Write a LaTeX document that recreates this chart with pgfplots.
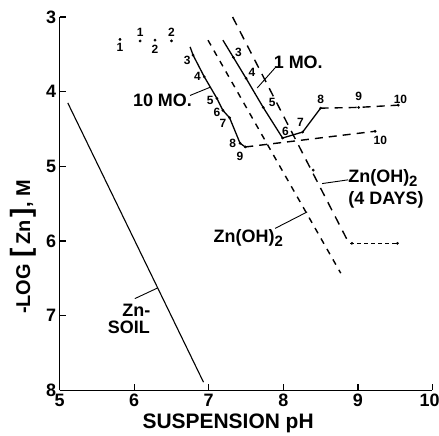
\documentclass[border=0pt]{standalone}
\usepackage{fontspec}
\setmainfont{Liberation Sans}
\usepackage{pgfplots}
\pgfplotsset{compat=1.18}
\newcommand{\fs}[1]{\fontsize{#1}{#1}\selectfont}
\begin{document}
\begin{tikzpicture}
\begin{axis}[name=ax, scale only axis, width=372.5bp, height=373bp,
 xmin=5, xmax=10, ymin=3, ymax=8, y dir=reverse,
 axis lines=left, axis line style={line width=1.6bp,-},
 xtick={5,6,7,8,9,10}, ytick={3,4,5,6,7,8},
 xticklabels={5,6,7,8,9,\makebox[14bp][r]{10}},
 tick align=inside, major tick length=6bp, tick style={line width=1.2bp, black},
 ticklabel style={font=\fs{18}\bfseries},
 /pgf/number format/assume math mode=true,
 clip=false,
 ]
% Zn-soil
\addplot[black, line width=1.1bp] coordinates {(5.11,4.15) (6.93,7.89)};
% scattered early points
\addplot[only marks, mark=*, mark size=1.2bp, black] coordinates {(5.81,3.30) (6.08,3.32) (6.28,3.31) (6.50,3.32)};
% 10 MO
\addplot[black, line width=1.3bp] coordinates {(6.75,3.40) (6.79,3.51) (6.94,3.80) (7.11,4.09) (7.19,4.25) (7.28,4.35) (7.42,4.69) (7.49,4.74)};
\addplot[only marks, mark=*, mark size=1.2bp, black] coordinates {(6.79,3.51) (6.94,3.80) (7.11,4.09) (7.19,4.25) (7.28,4.35) (7.42,4.69) (7.49,4.74) (9.23,4.53)};
\addplot[black, line width=1.4bp, dash pattern=on 8bp off 6bp] coordinates {(7.49,4.74) (9.23,4.53)};
% 1 MO
\addplot[black, line width=1.3bp] coordinates {(7.19,3.31) (7.33,3.54) (7.50,3.82) (7.73,4.21) (7.99,4.62) (8.26,4.54) (8.50,4.22)};
\addplot[black, line width=1.4bp, dash pattern=on 8bp off 6bp] coordinates {(8.50,4.22) (9.01,4.21) (9.54,4.18)};
\addplot[only marks, mark=*, mark size=1.2bp, black] coordinates {(7.33,3.54) (7.50,3.82) (7.73,4.21) (7.99,4.62) (8.26,4.54) (8.50,4.22) (9.01,4.21) (9.54,4.18)};
% Zn(OH)2
\addplot[black, line width=1.4bp, dash pattern=on 6bp off 6bp] coordinates {(6.99,3.31) (8.77,6.43)};
% Zn(OH)2 4 days
\addplot[black, line width=1.4bp, dash pattern=on 9bp off 7bp] coordinates {(7.32,3.00) (8.88,6.03)};
\addplot[black, line width=1.4bp, dash pattern=on 4bp off 3bp] coordinates {(8.90,6.03) (9.53,6.03)};
\addplot[only marks, mark=*, mark size=1.2bp, black] coordinates {(8.40,5.05) (8.92,6.03) (9.53,6.03)};
% leaders
\addplot[black, line width=0.9bp] coordinates {(6.75,4.05) (7.02,3.94)};
\addplot[black, line width=0.9bp] coordinates {(7.65,3.95) (7.89,3.68)};
\addplot[black, line width=0.9bp] coordinates {(8.52,5.23) (8.87,5.18)};
\addplot[black, line width=0.9bp] coordinates {(7.89,5.83) (8.32,5.61)};
\addplot[black, line width=0.9bp] coordinates {(6.01,6.77) (6.31,6.63)};
% point labels
\begin{scope}[every node/.style={font=\fs{12}\bfseries, inner sep=0pt}]
\node at (axis cs:5.81,3.40) {1};
\node at (axis cs:6.08,3.21) {1};
\node at (axis cs:6.28,3.43) {2};
\node at (axis cs:6.50,3.20) {2};
\node at (axis cs:6.71,3.58) {3};
\node at (axis cs:6.85,3.79) {4};
\node at (axis cs:7.02,4.12) {5};
\node at (axis cs:7.11,4.28) {6};
\node at (axis cs:7.19,4.42) {7};
\node at (axis cs:7.32,4.69) {8};
\node at (axis cs:7.42,4.87) {9};
\node at (axis cs:9.30,4.65) {10};
\node at (axis cs:7.40,3.47) {3};
\node at (axis cs:7.58,3.74) {4};
\node at (axis cs:7.85,4.15) {5};
\node at (axis cs:8.03,4.53) {6};
\node at (axis cs:8.23,4.41) {7};
\node at (axis cs:8.50,4.10) {8};
\node at (axis cs:9.01,4.06) {9};
\node at (axis cs:9.57,4.10) {10};
\end{scope}
% text labels
\begin{scope}[every node/.style={font=\fs{18}\bfseries, inner sep=0pt}]
\node at (axis cs:6.38,4.11) {10 MO.};
\node at (axis cs:8.20,3.60) {1 MO.};
\node[anchor=west] at (axis cs:8.87,5.16) {Zn(OH)\raisebox{-0.35ex}{\fs{15}\bfseries 2}};
\node[anchor=west] at (axis cs:8.87,5.45) {(4 DAYS)};
\node at (axis cs:7.53,5.96) {Zn(OH)\raisebox{-0.35ex}{\fs{15}\bfseries 2}};
\node at (axis cs:6.03,6.93) {Zn-};
\node at (axis cs:5.93,7.16) {SOIL};
\node[rotate=90, font=\fs{20}\bfseries] at (axis cs:4.51,6.08) {-LOG\,\,{\fs{28}[}\,Zn\,{\fs{28}]}, M};
\node[font=\fs{21}\bfseries] at (axis cs:7.26,8.44) {SUSPENSION pH};
\end{scope}
\end{axis}
\pgfresetboundingbox
\path[use as bounding box] ([shift={(-59.5bp,-45bp)}]ax.south west) rectangle ([shift={(6.5bp,17bp)}]ax.north east);
\end{tikzpicture}
\end{document}
